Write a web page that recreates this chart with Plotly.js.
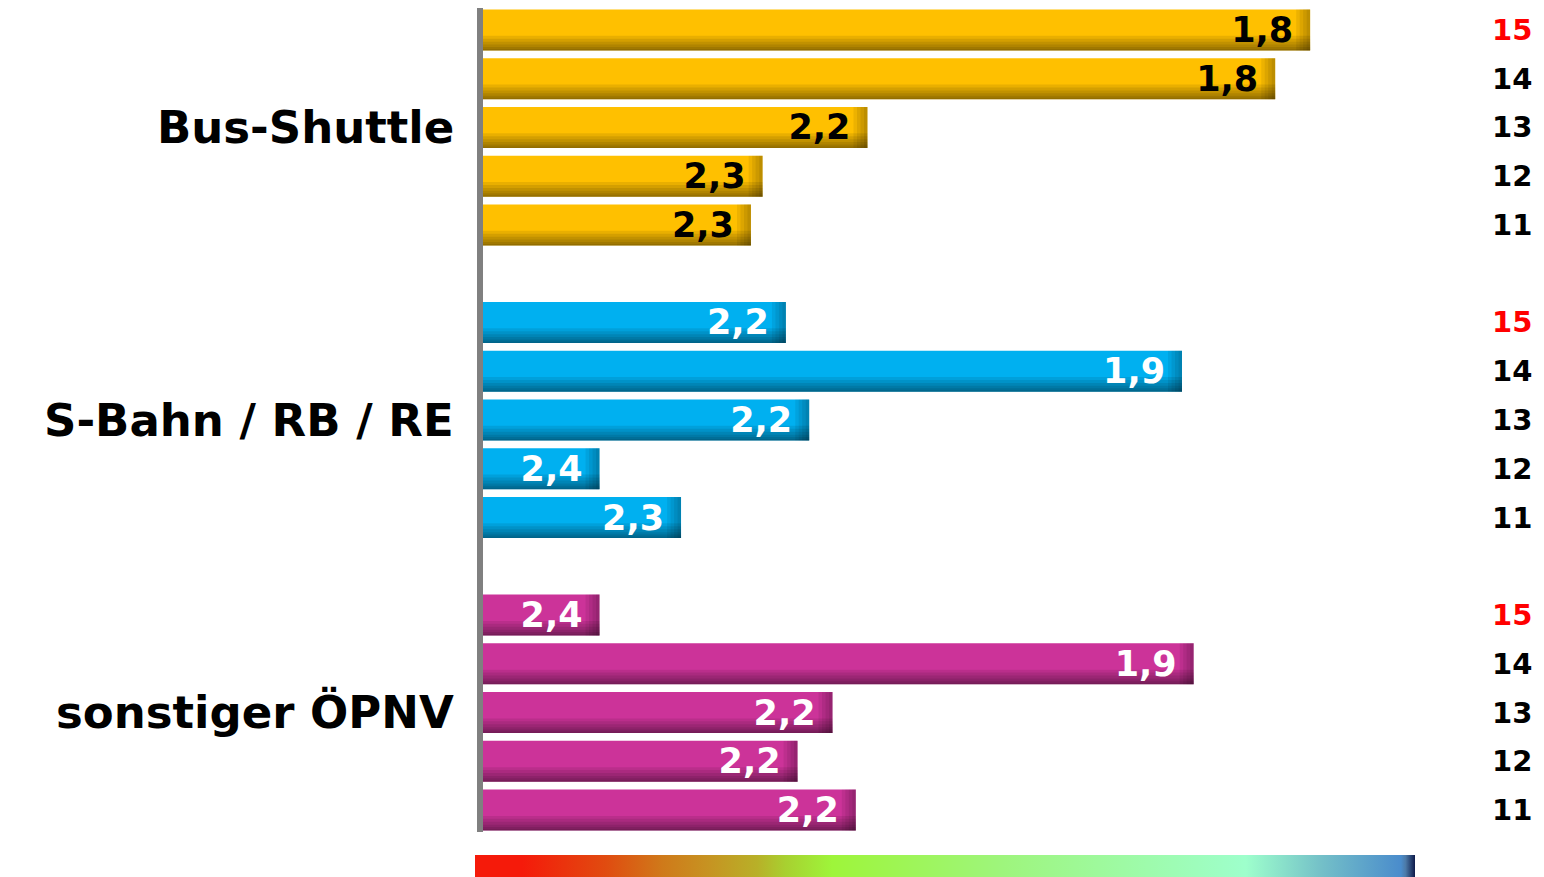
<!DOCTYPE html>
<html>
<head>
<meta charset="utf-8">
<script src="https://cdn.plot.ly/plotly-3.0.1.min.js"></script>
<style>
  html, body { margin: 0; padding: 0; background: #fff; }
  #chart { width: 1544px; height: 877px; }
</style>
</head>
<body>
<div id="chart"></div>
<script>
// Mittelwerte (Schulnoten) je Verkehrsmittel, Jahre 2015 ... 2011
var groups = ['Bus-Shuttle', 'S-Bahn / RB / RE', 'sonstiger ÖPNV'];
var years = ['15', '14', '13', '12', '11'];
var busShuttle = [1.79, 1.82, 2.17, 2.26, 2.27];
var sBahn = [2.24, 1.90, 2.22, 2.40, 2.33];
var sonstige = [2.40, 1.89, 2.20, 2.23, 2.18];
var barColors = ['#ffc000', '#00b0f0', '#cc3399'];
var labelColors = ['#000000', '#ffffff', '#ffffff'];

var series = [busShuttle, sBahn, sonstige];
var axisStart = 2.5;
var font = 'DejaVu Sans, Verdana, sans-serif';

function fmt(v) { return v.toFixed(1).replace('.', ','); }

var data = [];
var shades = [0.30, 0.24, 0.18, 0.12, 0.07, 0.03];
var ends = [0.012, 0.009, 0.006, 0.003];

series.forEach(function (vals, g) {
  var pos = vals.map(function (v, i) { return g * 6 + i; });
  var size = vals.map(function (v) { return v - axisStart; });

  // Grundbalken
  data.push({
    type: 'bar', orientation: 'h', y: pos, x: size, base: axisStart,
    width: 0.84, marker: { color: barColors[g] }, hoverinfo: 'skip'
  });
  // Schattierung unten
  shades.forEach(function (h) {
    data.push({
      type: 'bar', orientation: 'h', y: pos, x: size, base: axisStart,
      width: h, offset: 0.42 - h,
      marker: { color: 'rgba(0,0,0,0.085)' }, hoverinfo: 'skip'
    });
  });
  // Schattierung am Balkenende
  ends.forEach(function (d) {
    data.push({
      type: 'bar', orientation: 'h', y: pos,
      x: vals.map(function () { return -d; }),
      base: vals.map(function (v) { return v + d; }),
      width: 0.84, marker: { color: 'rgba(0,0,0,0.07)' }, hoverinfo: 'skip'
    });
  });
  // Werte
  data.push({
    type: 'bar', orientation: 'h', y: pos, x: size, base: axisStart,
    width: 0.84, marker: { color: 'rgba(0,0,0,0)' },
    text: vals.map(function (v) { return fmt(v) + '\u2009\u2009'; }),
    textposition: 'inside', insidetextanchor: 'end', constraintext: 'none',
    textfont: { family: font, size: 35, color: labelColors[g], weight: 'bold' },
    cliponaxis: false, hoverinfo: 'skip'
  });
});

// Farbskala unten
data.push({
  type: 'scatter', mode: 'markers', x: [2.5], y: [-5],
  marker: {
    size: 0, opacity: 0, color: [0], cmin: 0, cmax: 1, showscale: true,
    colorscale: [
      [0, '#f51a0a'], [0.05, '#f51a0a'], [0.14, '#e04c10'], [0.2, '#cf7a1a'],
      [0.25, '#c69422'], [0.3, '#b8b028'], [0.33, '#a8d030'], [0.38, '#9ef53a'],
      [0.56, '#9ef57c'], [0.82, '#9effcc'], [0.9, '#74c0c8'], [0.985, '#4a8ccc'],
      [0.99, '#4c7aa8'], [1, '#0e1a4a']
    ],
    colorbar: {
      orientation: 'h', yref: 'container',
      x: 0.4957, xanchor: 'center', y: 0, yanchor: 'bottom',
      len: 940, lenmode: 'pixels', thickness: 22, thicknessmode: 'pixels',
      outlinewidth: 0, showticklabels: false, ticks: '', xpad: 0, ypad: 0
    }
  },
  hoverinfo: 'skip', showlegend: false
});

var annotations = [];
groups.forEach(function (name, g) {
  annotations.push({
    xref: 'paper', yref: 'y', x: 0, y: g * 6 + 2, xanchor: 'right', xshift: -27,
    text: name, showarrow: false,
    font: { family: font, size: 45, color: '#000', weight: 'bold' }
  });
  years.forEach(function (yr, i) {
    annotations.push({
      xref: 'paper', yref: 'y', x: 1, y: g * 6 + i, xanchor: 'right', xshift: 119,
      text: yr, showarrow: false,
      font: { family: font, size: 29, color: i === 0 ? '#ff0000' : '#000', weight: 'bold' }
    });
  });
});

var layout = {
  width: 1544, height: 877,
  margin: { l: 483, r: 129, t: 8, b: 45 },
  barmode: 'overlay',
  showlegend: false,
  paper_bgcolor: '#fff', plot_bgcolor: '#fff',
  xaxis: {
    range: [2.5, 1.7], showgrid: false, zeroline: false,
    showticklabels: false, ticks: '', showline: false, fixedrange: true
  },
  yaxis: {
    range: [16.45, -0.45], showgrid: false, zeroline: false,
    showticklabels: false, ticks: '', showline: true, linecolor: '#808080',
    linewidth: 6, fixedrange: true
  },
  annotations: annotations
};

Plotly.newPlot('chart', data, layout, { displayModeBar: false, staticPlot: true });
</script>
</body>
</html>
